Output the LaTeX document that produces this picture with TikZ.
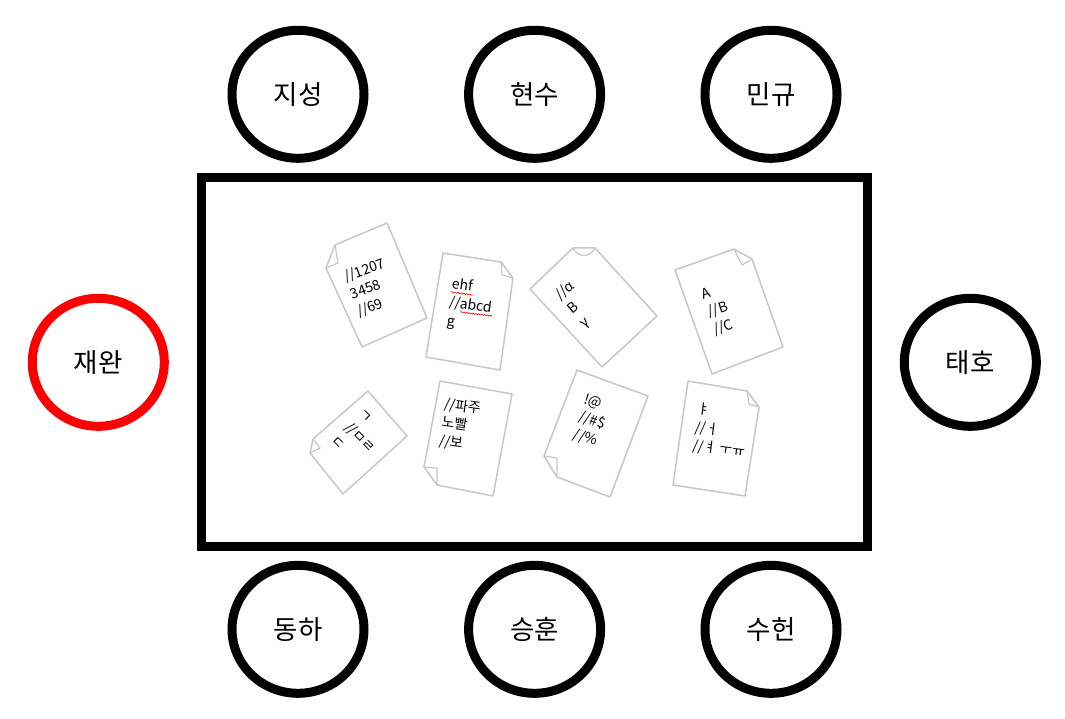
\documentclass[tikz,border=0pt]{standalone}
\usepackage{fontspec}
\setmainfont{Noto Sans CJK KR}
\usetikzlibrary{shapes.geometric,decorations.pathmorphing}
\tikzset{
  seat/.style={draw=black,ellipse,line width=9pt,minimum width=132pt,minimum height=128pt,inner sep=0pt,font=\fontsize{26.5}{30}\selectfont},
  boss/.style={seat,draw=red},
  tablebox/.style={draw=black,line width=9pt,minimum width=666pt,minimum height=369pt,inner sep=0pt},
  sheet/.style={draw=black!22,line width=1.5pt,line join=round,fill=white},
  crease/.style={draw=black!22,line width=1.2pt,line join=round},
  memo/.style={align=left,inner sep=0pt,font=\fontsize{14}{18.5}\selectfont},
  spell/.style={draw=red,line width=.6pt,decorate,decoration={snake,amplitude=.6pt,segment length=3pt}}
}
\begin{document}
\begin{tikzpicture}[x=1pt,y=-1pt]
\useasboundingbox (0,0) rectangle (1065,719);
\node[tablebox] (table) at (534.3,362) {};
\node[seat] (jiseong) at (298,94.3) {지성};
\node[seat] (hyeonsu) at (534.6,94.3) {현수};
\node[seat] (mingyu) at (771,94.3) {민규};
\node[boss] (jaewan) at (98.3,362.3) {재완};
\node[seat] (taeho) at (970.3,362.3) {태호};
\node[seat] (dongha) at (298,629.3) {동하};
\node[seat] (seunghun) at (534.6,629.3) {승훈};
\node[seat] (suheon) at (771,629.3) {수헌};
% sheet 1
\draw[sheet] (335,245) -- (387,223) -- (427,318) -- (362,347) -- (326,268) -- cycle;
\draw[crease] (335,245) -- (338,263) -- (326,268);
\node[memo,rotate=20] (m1) at (371,288) {//1207\\3458\\//69};
% sheet 2
\draw[sheet] (443,253) -- (501,262) -- (513,278) -- (500,370) -- (426,357) -- cycle;
\draw[crease] (501,262) -- (502,275) -- (513,278);
\node[memo,rotate=-8] (m2) at (470.5,306) {ehf\\//abcd\\g};
\draw[spell] (451,292) -- (473,295);
\draw[spell] (460,312) -- (492,316);
% sheet 3
\draw[sheet] (573,248) -- (595,248) -- (657,316) -- (602,367) -- (530,289) -- cycle;
\draw[crease] (573,248) .. controls (578,258) and (590,258) .. (595,248);
\node[memo,rotate=40] (m3) at (577,305) {//α\\B\\γ};
% sheet 4
\draw[sheet] (675,270) -- (734,249) -- (752,259) -- (783,347) -- (712,374) -- cycle;
\draw[crease] (734,249) -- (742,265) -- (752,259);
\node[memo,rotate=18] (m4) at (718,310) {A\\//B\\//C};
% sheet 5
\draw[sheet] (313,439) -- (368,391) -- (407,436) -- (343,494) -- (310,453) -- cycle;
\draw[crease] (313,439) -- (320,448) -- (310,453);
\node[memo,rotate=-45] (m5) at (360,438) {ㄱ\\//ㅁㄹ\\ㄷ};
% sheet 6
\draw[sheet] (440,381) -- (512,394) -- (493,496) -- (437,485) -- (424,467) -- cycle;
\draw[crease] (424,467) -- (437,468) -- (437,485);
\node[memo,rotate=-8] (m6) at (460,425) {//파주\\노빨\\//보};
% sheet 7
\draw[sheet] (577,370) -- (648,396) -- (610,497) -- (557,477) -- (544,456) -- cycle;
\draw[crease] (544,456) -- (557,458) -- (557,477);
\node[memo,rotate=-17] (m7) at (592,421) {!@\\//\#\$\\//\%};
% sheet 8
\draw[sheet] (688,381) -- (747,391) -- (759,407) -- (745,496) -- (673,485) -- cycle;
\draw[crease] (747,391) -- (749,404) -- (759,407);
\node[memo,rotate=-7] (m8) at (721,431) {ㅑ\\//ㅓ\\//ㅕ ㅜㅠ};
\end{tikzpicture}
\end{document}
